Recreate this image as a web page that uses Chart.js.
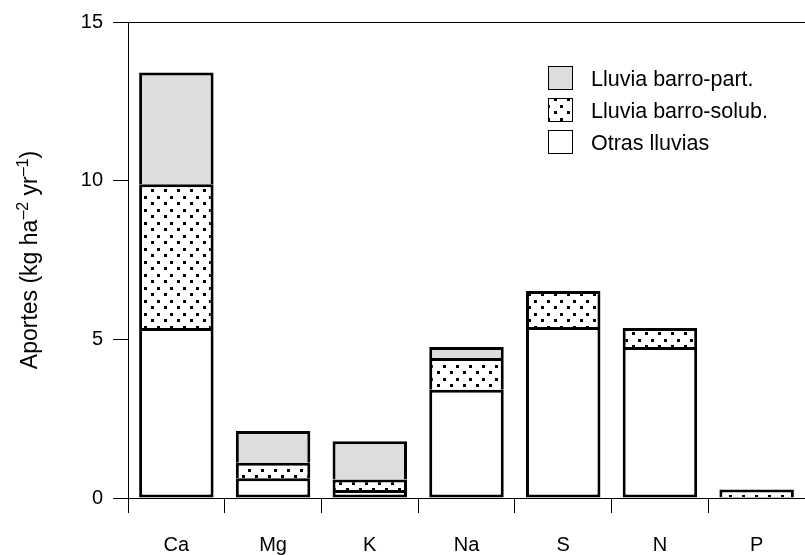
<!DOCTYPE html>
<html>
<head>
<meta charset="utf-8">
<script src="https://cdn.jsdelivr.net/npm/chart.js@4.4.1/dist/chart.umd.min.js"></script>
<style>
  html,body{margin:0;padding:0;background:#fff;overflow:hidden}
  #wrap{width:805px;height:555px;position:relative}
</style>
</head>
<body>
<div id="wrap"><canvas id="chart"></canvas></div>
<script>
/* ── DATA ── */
const elements     = ['Ca','Mg','K','Na','S','N','P'];
const otrasLluvias = [5.36, 0.62, 0.25, 3.41, 5.39, 4.76, 0.03];
const barroSolub   = [4.53, 0.49, 0.33, 1.00, 1.13, 0.60, 0.24];
const barroPart    = [3.52, 1.00, 1.21, 0.35, 0,    0,    0];
const yTicks       = [0, 5, 10, 15];
const seriesNames  = ['Otras lluvias', 'Lluvia barro-solub.', 'Lluvia barro-part.'];

const FONT = "'Liberation Sans', Arial, Helvetica, sans-serif";
const canvas = document.getElementById('chart');
const ctx = canvas.getContext('2d');

/* ── DOT PATTERN ── */
function dots(){
  const t = document.createElement('canvas');
  t.width = 13; t.height = 13;
  const g = t.getContext('2d');
  g.fillStyle = '#fff'; g.fillRect(0, 0, 13, 13);
  g.fillStyle = '#000';
  g.fillRect(1, 1, 3, 3);
  g.fillRect(8, 7, 3, 3);
  return ctx.createPattern(t, 'repeat');
}
const dotFill = dots();

/* ── PLUGINS ── */
const yTitle = {
  id: 'yTitle',
  afterDraw(chart){
    const c = chart.ctx, a = chart.chartArea;
    const parts = [['Aportes (kg ha', 0], ['\u20132', 1], [' yr', 0], ['\u20131', 1], [')', 0]];
    const big = '23px ' + FONT, sml = '16px ' + FONT;
    c.save();
    let total = 0;
    parts.forEach(p => { c.font = p[1] ? sml : big; total += c.measureText(p[0]).width; });
    c.translate(37, (a.top + a.bottom) / 2);
    c.rotate(-Math.PI / 2);
    c.fillStyle = '#000';
    c.textBaseline = 'alphabetic';
    let u = -total / 2;
    parts.forEach(p => {
      c.font = p[1] ? sml : big;
      c.fillText(p[0], u, p[1] ? -9 : 0);
      u += c.measureText(p[0]).width;
    });
    c.restore();
  }
};

const boxLegend = {
  id: 'boxLegend',
  afterDraw(chart){
    const c = chart.ctx;
    const items = chart.data.datasets.slice().reverse();
    c.save();
    c.font = '21.5px ' + FONT;
    c.textBaseline = 'alphabetic';
    items.forEach((d, i) => {
      const y = 66 + i * 32;
      c.fillStyle = d.backgroundColor;
      c.fillRect(548, y, 25, 24);
      c.strokeStyle = '#000'; c.lineWidth = 1;
      c.strokeRect(548.5, y + 0.5, 24, 23);
      c.fillStyle = '#000';
      c.fillText(d.label, 591, y + 20);
    });
    c.restore();
  }
};

/* ── CHART ── */
const sideTop = {top: 3, left: 3, right: 3, bottom: 0};
new Chart(canvas, {
  type: 'bar',
  data: {
    labels: elements,
    datasets: [
      {label: seriesNames[0], data: otrasLluvias, backgroundColor: '#ffffff', borderWidth: {top: 3, left: 3, right: 3, bottom: 3}},
      {label: seriesNames[1], data: barroSolub, backgroundColor: dotFill, borderWidth: sideTop},
      {label: seriesNames[2], data: barroPart, backgroundColor: '#dddddd', borderWidth: sideTop}
    ].map(d => Object.assign(d, {borderColor: '#000', borderSkipped: false, categoryPercentage: 1, barPercentage: 0.77}))
  },
  options: {
    responsive: true,
    maintainAspectRatio: false,
    animation: false,
    layout: {padding: {top: 21, left: 0, right: 0, bottom: 0}},
    plugins: {legend: {display: false}, tooltip: {enabled: false}},
    scales: {
      x: {
        stacked: true,
        grid: {offset: true, drawOnChartArea: false, drawTicks: true, tickLength: 15, color: '#000', lineWidth: 1},
        border: {display: true, color: '#000', width: 1},
        ticks: {color: '#000', font: {family: FONT, size: 20}, padding: 20, maxRotation: 0},
        afterFit: s => { s.height = 57; }
      },
      y: {
        stacked: true,
        min: 0, max: 15,
        afterBuildTicks: s => { s.ticks = yTicks.map(v => ({value: v})); },
        // top frame line at the 15 tick, other grid lines hidden
        grid: {drawOnChartArea: true, drawTicks: true, tickLength: 15, lineWidth: 1, tickColor: '#000',
               color: c => c.tick && c.tick.value === 15 ? '#000' : 'rgba(0,0,0,0)'},
        border: {display: true, color: '#000', width: 1},
        ticks: {color: '#000', font: {family: FONT, size: 20}, padding: 10},
        afterFit: s => { s.width = 128; }
      }
    }
  },
  plugins: [yTitle, boxLegend]
});
</script>
</body>
</html>
